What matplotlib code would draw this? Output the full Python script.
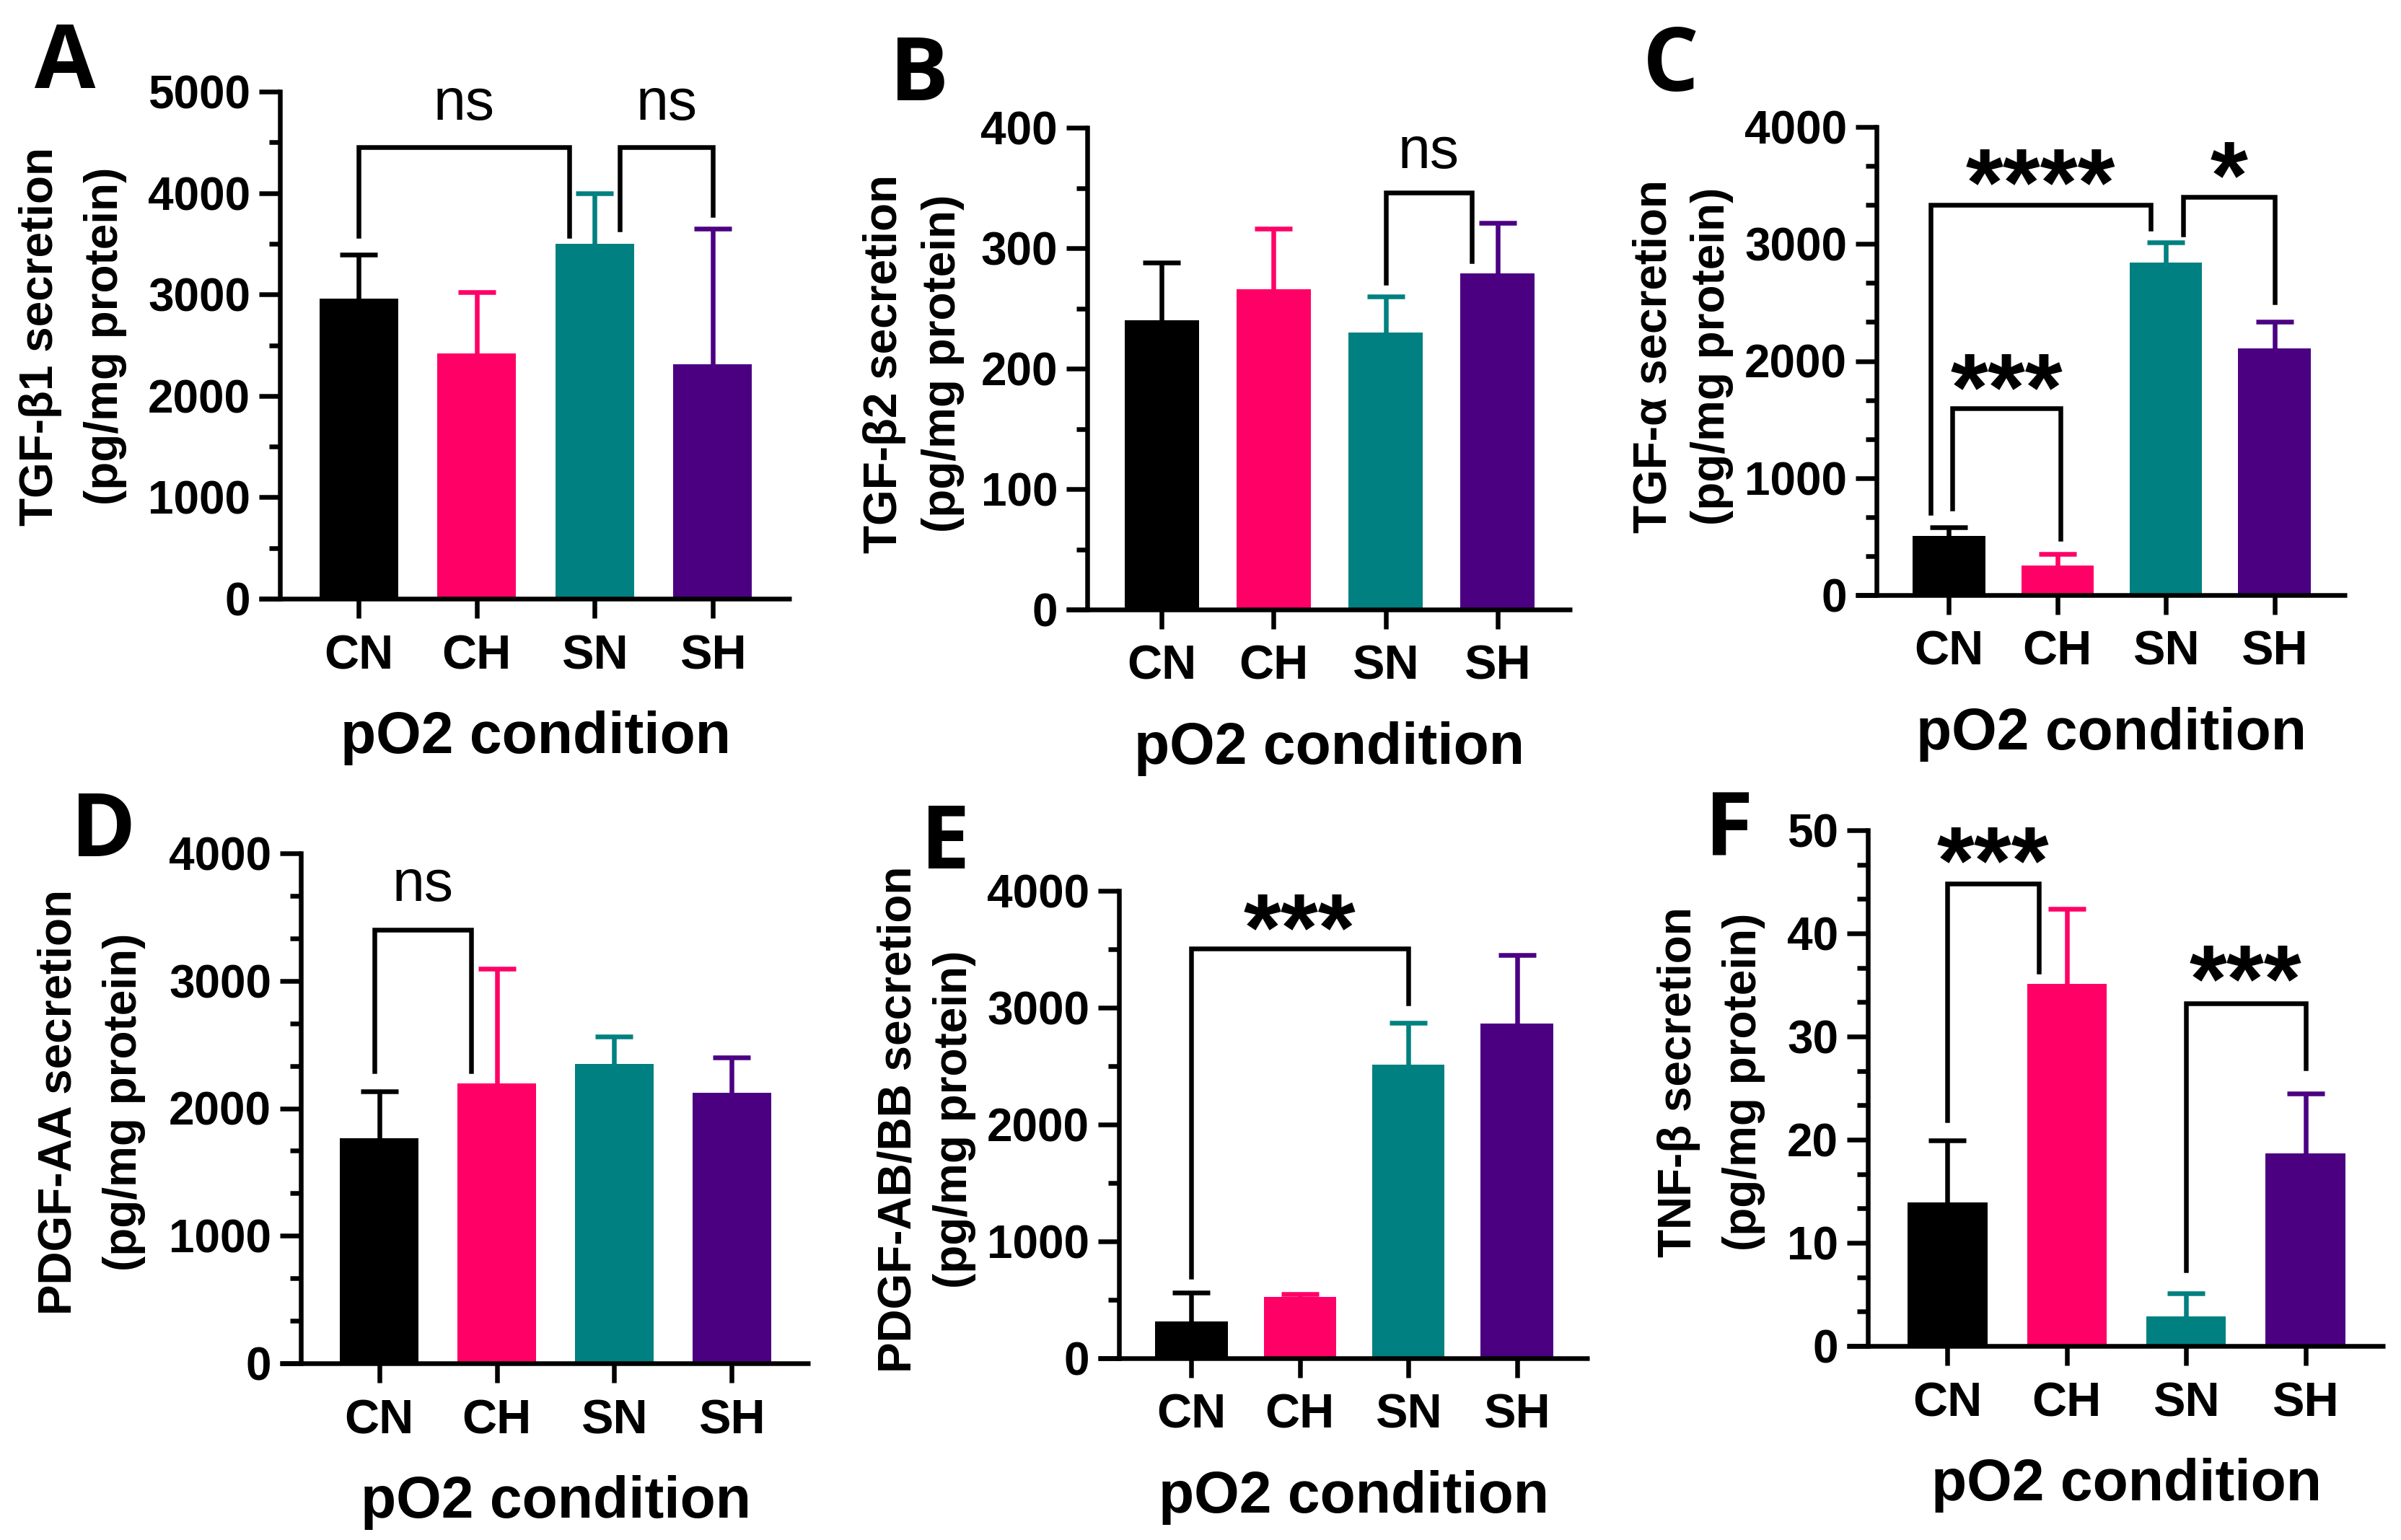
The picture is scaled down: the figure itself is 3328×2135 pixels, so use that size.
import numpy as np
import matplotlib
matplotlib.use("Agg")
import matplotlib.pyplot as plt
from matplotlib.ticker import MultipleLocator, AutoMinorLocator

W, H = 3328, 2135
DPI = 200

groups = ["CN", "CH", "SN", "SH"]
bar_colors = ["#000000", "#FF0066", "#008080", "#4B0082"]

# A: TGF-b1
tgfb1_mean = [2960, 2420, 3500, 2310]
tgfb1_top = [3390, 3020, 4000, 3650]
# B: TGF-b2
tgfb2_mean = [240, 266, 230, 279]
tgfb2_top = [288, 316, 260, 321]
# C: TGF-a
tgfa_mean = [508, 250, 2842, 2108]
tgfa_top = [579, 354, 3012, 2337]
# D: PDGF-AA
pdgfaa_mean = [1767, 2198, 2346, 2120]
pdgfaa_top = [2132, 3095, 2563, 2400]
# E: PDGF-AB/BB
pdgfab_mean = [317, 525, 2510, 2866]
pdgfab_top = [559, 550, 2870, 3450]
# F: TNF-b
tnfb_mean = [13.9, 35.1, 2.9, 18.7]
tnfb_top = [19.9, 42.4, 5.1, 24.5]

# brackets: (x left, x right, y left leg, y top, y right leg, label, label y)
brackets_a = [(0, 1.785, 3580, 4455, 3580, "ns", 4871),
              (2.215, 3, 3640, 4455, 3785, "ns", 4871)]
brackets_b = [(2, 2.77, 271, 346, 289, "ns", 379)]
brackets_c = [(-0.17, 1.86, 700, 3333, 3133, "****", 3667),
              (0.03, 1.03, 737, 1596, 479, "***", 1917),
              (2.16, 3, 3083, 3400, 2500, "*", 3729)]
brackets_d = [(-0.04, 0.78, 2291, 3398, 2291, "ns", 3748)]
brackets_e = [(0, 2, 698, 3505, 3035, "***", 3831)]
brackets_f = [(0, 0.765, 21.9, 44.8, 36.3, "***", 48.7),
              (2, 3, 7.34, 33.25, 26.9, "***", 37.2)]


def px(v):
    return v * 72.0 / DPI


LW = px(6.5)
BAR_W = 0.667

plt.rcParams["font.family"] = ["Liberation Sans", "DejaVu Sans"]
plt.rcParams["font.weight"] = "bold"
plt.rcParams["axes.labelweight"] = "bold"

panels = [
    dict(letter="A", letter_pos=(48, 122), rect=(388, 1097, 127, 830),
         ymax=5000, step=1000, minor=2, mean=tgfb1_mean, top=tgfb1_top,
         brackets=brackets_a, ylab=("TGF-\u03b21 secretion", "(pg/mg protein)"),
         ylab_pos=(56, 146, 466)),
    dict(letter="B", letter_pos=(1233, 139), rect=(1507, 2179, 177, 845),
         ymax=400, step=100, minor=2, mean=tgfb2_mean, top=tgfb2_top,
         brackets=brackets_b, ylab=("TGF-\u03b22 secretion", "(pg/mg protein)"),
         ylab_pos=(1226, 1307, 504)),
    dict(letter="C", letter_pos=(2277, 126), rect=(2601, 3253, 176, 825),
         ymax=4000, step=1000, minor=3, mean=tgfa_mean, top=tgfa_top,
         brackets=brackets_c, ylab=("TGF-\u03b1 secretion", "(pg/mg protein)"),
         ylab_pos=(2293, 2373, 494)),
    dict(letter="D", letter_pos=(98, 1187), rect=(417, 1123, 1183, 1890),
         ymax=4000, step=1000, minor=3, mean=pdgfaa_mean, top=pdgfaa_top,
         brackets=brackets_d, ylab=("PDGF-AA secretion", "(pg/mg protein)"),
         ylab_pos=(82, 172, 1528)),
    dict(letter="E", letter_pos=(1276, 1204), rect=(1551, 2203, 1235, 1883),
         ymax=4000, step=1000, minor=2, mean=pdgfab_mean, top=pdgfab_top,
         brackets=brackets_e, ylab=("PDGF-AB/BB secretion", "(pg/mg protein)"),
         ylab_pos=(1245, 1323, 1552)),
    dict(letter="F", letter_pos=(2363, 1187), rect=(2589, 3306, 1151, 1866),
         ymax=50, step=10, minor=3, mean=tnfb_mean, top=tnfb_top,
         brackets=brackets_f, ylab=("TNF-\u03b2 secretion", "(pg/mg protein)"),
         ylab_pos=(2327, 2417, 1500)),
]

fig = plt.figure(figsize=(W / DPI, H / DPI), dpi=DPI)

for p in panels:
    l, r, t, b = p["rect"]
    ax = fig.add_axes([l / W, 1 - b / H, (r - l) / W, (b - t) / H])
    x = np.arange(len(groups))

    # error bars (upper only), drawn behind the bars
    for i in range(len(groups)):
        _, caps, _ = ax.errorbar(x[i], p["mean"][i],
                                 yerr=[[0], [p["top"][i] - p["mean"][i]]],
                                 fmt="none", ecolor=bar_colors[i], elinewidth=LW,
                                 capsize=px(26), capthick=LW, zorder=1,
                                 clip_on=False)
        # drop the cap sitting on the bar top
        for cap in caps:
            if cap.get_ydata()[0] == p["mean"][i]:
                cap.remove()
    ax.bar(x, p["mean"], width=BAR_W, color=bar_colors, zorder=2)

    ax.set_xlim(-BAR_W, len(groups) - 1 + BAR_W)
    ax.set_ylim(0, p["ymax"])

    # significance brackets
    for x1, x2, y1, yt, y2, lab, ly in p["brackets"]:
        ax.plot([x1, x1, x2, x2], [y1, yt, yt, y2], color="black", lw=LW,
                clip_on=False, solid_joinstyle="miter", zorder=3)
        if lab == "ns":
            ax.annotate(lab, xy=((x1 + x2) / 2, ly), ha="center", va="center",
                        fontsize=29, fontweight="normal", annotation_clip=False)
        else:
            ax.annotate(lab, xy=((x1 + x2) / 2, ly), xytext=(0, -px(34)),
                        textcoords="offset points", ha="center", va="center",
                        fontsize=48, fontweight="bold", annotation_clip=False)

    # Prism-like axes
    for s in ["top", "right", "bottom"]:
        ax.spines[s].set_visible(False)
    ax.spines["left"].set_linewidth(LW)
    ext = 29.0 / (r - l)
    ax.plot([-ext, 1], [0, 0], transform=ax.transAxes, color="black", lw=LW,
            clip_on=False, solid_capstyle="butt", zorder=4)

    ax.yaxis.set_major_locator(MultipleLocator(p["step"]))
    ax.yaxis.set_minor_locator(AutoMinorLocator(p["minor"]))
    ax.tick_params(axis="y", which="major", length=px(29), width=LW,
                   pad=px(12), labelsize=23)
    ax.tick_params(axis="y", which="minor", length=px(15), width=LW)
    ax.set_xticks(x)
    ax.set_xticklabels(groups)
    ax.tick_params(axis="x", length=px(27), width=LW, pad=px(22), labelsize=24)

    ax.set_xlabel("pO2 condition", fontsize=29, fontweight="bold",
                  labelpad=px(44))

    # y label as two rotated lines
    c1, c2, cy = p["ylab_pos"]
    fig.text(c1 / W, 1 - cy / H, p["ylab"][0], rotation=90, ha="center",
             va="center", fontsize=23)
    fig.text(c2 / W, 1 - cy / H, p["ylab"][1], rotation=90, ha="center",
             va="center", fontsize=23)

    lx, ly = p["letter_pos"]
    fig.text(lx / W, 1 - ly / H, p["letter"], ha="left", va="baseline",
             fontsize=44, fontweight="bold", family="Open Sans")

fig.savefig("out.png", dpi=DPI, facecolor="white")
